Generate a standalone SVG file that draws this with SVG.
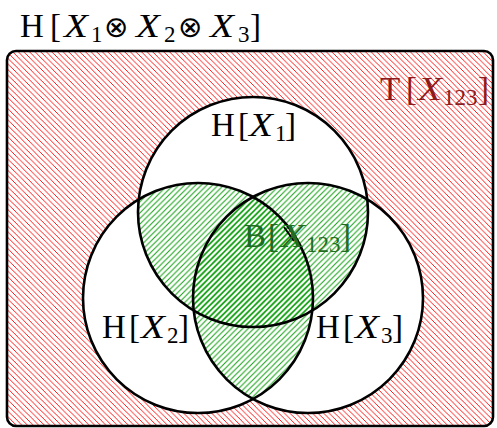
<svg xmlns="http://www.w3.org/2000/svg" width="497" height="428" viewBox="0 0 497 428">
<style>
.c{fill:none;stroke:#000;stroke-width:2.6}
.t{font-family:"Liberation Serif","DejaVu Serif",serif;font-size:33px;fill:#000}
.i{font-style:italic}
.s{font-size:23px}
.o{font-family:"DejaVu Sans",sans-serif;font-size:29px}
.red{fill:#8e1b1b}
.grn{fill:#226b22}
</style>
<defs>
<pattern id="hr" patternUnits="userSpaceOnUse" width="5.6" height="5.6">
<path d="M-1,-1 L6.6,6.6 M-1,4.6 L1,6.6 M4.6,-1 L6.6,1" stroke="#ff0000" stroke-width="0.9"/>
</pattern>
<pattern id="hg" patternUnits="userSpaceOnUse" width="5.6" height="5.6">
<path d="M-1,6.6 L6.6,-1 M-1,1 L1,-1 M4.6,6.6 L6.6,4.6" stroke="#10a010" stroke-width="1"/>
</pattern>
<clipPath id="kT"><circle cx="253" cy="212" r="115"/></clipPath>
<clipPath id="kR"><circle cx="308" cy="298" r="115"/></clipPath>
<mask id="out">
<rect x="0" y="0" width="497" height="428" fill="#fff"/>
<circle cx="253" cy="212" r="115" fill="#000"/>
<circle cx="198" cy="298" r="115" fill="#000"/>
<circle cx="308" cy="298" r="115" fill="#000"/>
</mask>
</defs>
<g id="region-T">
<rect x="7" y="51" width="486" height="375" rx="9" fill="url(#hr)" mask="url(#out)"/>
</g>
<g id="region-B">
<g clip-path="url(#kT)">
<circle cx="198" cy="298" r="115" fill="url(#hg)"/>
<circle cx="308" cy="298" r="115" fill="url(#hg)"/>
</g>
<g clip-path="url(#kR)">
<circle cx="198" cy="298" r="115" fill="url(#hg)"/>
</g>
</g>
<g id="frame">
<rect x="7" y="51" width="486" height="375" rx="9" class="c"/>
</g>
<g id="X1"><circle cx="253" cy="212" r="115" class="c"/></g>
<g id="X2"><circle cx="198" cy="298" r="115" class="c"/></g>
<g id="X3"><circle cx="308" cy="298" r="115" class="c"/></g>
<g id="connectors"><path d="M284,227 L294,241" stroke="#000" stroke-width="2" fill="none"/></g>
<g id="labels">
<text class="t" y="37"><tspan x="20">H</tspan><tspan x="50">[</tspan><tspan x="64" class="i" textLength="24" lengthAdjust="spacingAndGlyphs">X</tspan><tspan x="91" y="42" class="s">1</tspan><tspan x="104" class="o" y="37">⊗</tspan><tspan x="136" class="i" textLength="24" lengthAdjust="spacingAndGlyphs">X</tspan><tspan x="164" y="42" class="s">2</tspan><tspan x="178" class="o" y="37">⊗</tspan><tspan x="210" class="i" textLength="24" lengthAdjust="spacingAndGlyphs">X</tspan><tspan x="238" y="42" class="s">3</tspan><tspan x="250" y="37">]</tspan></text>
<text class="t" y="136"><tspan x="211">H</tspan><tspan x="238">[</tspan><tspan x="249" class="i" textLength="24" lengthAdjust="spacingAndGlyphs">X</tspan><tspan x="275" y="141" class="s">1</tspan><tspan x="285" y="136">]</tspan></text>
<text class="t red" y="100"><tspan x="380">T</tspan><tspan x="406">[</tspan><tspan x="418" class="i" textLength="24" lengthAdjust="spacingAndGlyphs">X</tspan><tspan x="443" y="105" class="s">123</tspan><tspan x="478" y="100">]</tspan></text>
<text class="t grn" y="247"><tspan x="244">B</tspan><tspan x="268">[</tspan><tspan x="281" class="i" textLength="24" lengthAdjust="spacingAndGlyphs">X</tspan><tspan x="306" y="252" class="s">123</tspan><tspan x="340" y="247">]</tspan></text>
<text class="t" y="338"><tspan x="102">H</tspan><tspan x="129">[</tspan><tspan x="141" class="i" textLength="24" lengthAdjust="spacingAndGlyphs">X</tspan><tspan x="167" y="343" class="s">2</tspan><tspan x="178" y="338">]</tspan></text>
<text class="t" y="338"><tspan x="316">H</tspan><tspan x="343">[</tspan><tspan x="355" class="i" textLength="24" lengthAdjust="spacingAndGlyphs">X</tspan><tspan x="381" y="343" class="s">3</tspan><tspan x="392" y="338">]</tspan></text>
</g>
</svg>
